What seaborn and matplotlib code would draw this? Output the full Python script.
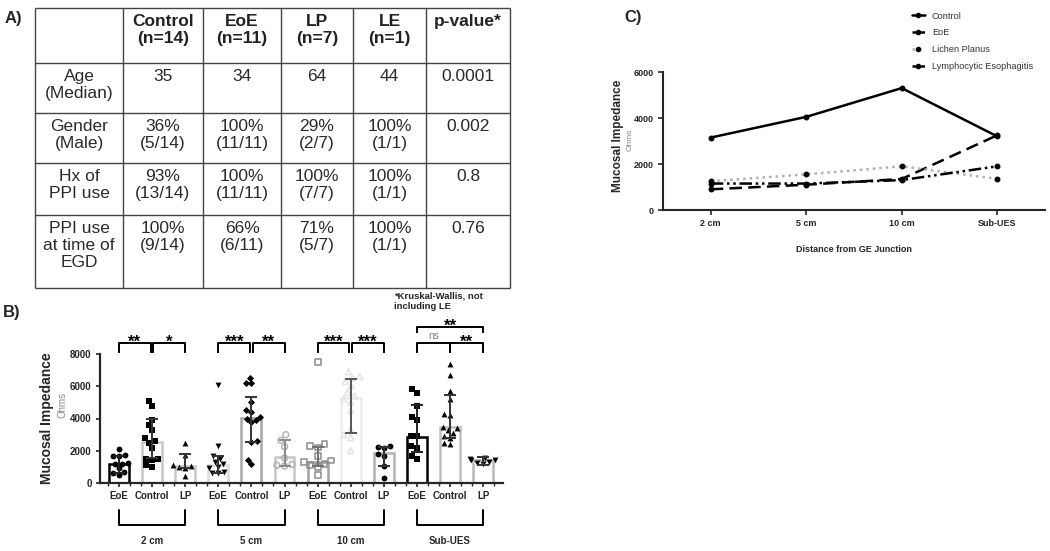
import numpy as np
import pandas as pd
import matplotlib.pyplot as plt
from matplotlib.lines import Line2D
from matplotlib.ticker import MultipleLocator
import seaborn as sns

sns.set_theme(style="ticks")
plt.rcParams['font.family'] = ['Liberation Sans', 'DejaVu Sans']

W, H = 1050, 551

# ---------------- panel A: demographics table ----------------
header = ["", "Control\n(n=14)", "EoE\n(n=11)", "LP\n(n=7)", "LE\n(n=1)", "p-value*"]
row_labels = ["Age\n(Median)", "Gender\n(Male)", "Hx of\nPPI use", "PPI use\nat time of\nEGD"]
control_col = ["35", "36%\n(5/14)", "93%\n(13/14)", "100%\n(9/14)"]
eoe_col = ["34", "100%\n(11/11)", "100%\n(11/11)", "66%\n(6/11)"]
lp_col = ["64", "29%\n(2/7)", "100%\n(7/7)", "71%\n(5/7)"]
le_col = ["44", "100%\n(1/1)", "100%\n(1/1)", "100%\n(1/1)"]
p_values = ["0.0001", "0.002", "0.8", "0.76"]

# ---------------- panel B: impedance per site / group ----------------
sites = ["2 cm", "5 cm", "10 cm", "Sub-UES"]
groups = ["EoE", "Control", "LP"]

eoe_2cm = [2100, 1750, 1700, 1650, 1250, 1200, 1150, 900, 700, 600, 500]
control_2cm = [5100, 4800, 3900, 3600, 3300, 2800, 2600, 2500, 2200, 1500, 1500, 1400, 1100, 1000]
lp_2cm = [2500, 1750, 1100, 1050, 1000, 950, 450]
eoe_5cm = [6100, 2300, 1650, 1500, 1300, 1200, 1000, 900, 700, 600, 600]
control_5cm = [6500, 6200, 6200, 5000, 4500, 4400, 4100, 4000, 3900, 3800, 2600, 2550, 1400, 1150]
lp_5cm = [3000, 2650, 2250, 1550, 1150, 1100, 1050]
eoe_10cm = [7500, 2400, 2300, 2200, 1700, 1400, 1300, 1200, 1100, 1000, 500]
control_10cm = [6900, 6600, 6500, 6300, 6000, 5600, 5400, 5200, 5000, 4500, 3300, 3000, 2800, 2000]
lp_10cm = [2300, 2250, 2200, 1800, 1700, 1050, 300]
eoe_sub = [5800, 5600, 4800, 4100, 3900, 2900, 2900, 2300, 2200, 1700, 1500]
control_sub = [7400, 6700, 5700, 5200, 4300, 4200, 3500, 3400, 3300, 3100, 2900, 2800, 2500, 2400]
lp_sub = [1550, 1500, 1450, 1400, 1300, 1250, 1200]

bar_median = [1180, 2570, 1060, 1100, 4020, 1630, 1320, 5260, 1840, 2880, 3500, 1430]
iqr_low = [600, 1530, 900, 620, 2570, 1050, 1050, 3080, 1050, 1900, 2780, 1120]
iqr_high = [1650, 3950, 1800, 1680, 5320, 2670, 2210, 6440, 2210, 4840, 5470, 1590]

stars_pairs = ["**", "*", "***", "**", "***", "***", "ns", "**"]
stars_overall = "**"

# ---------------- panel C: group means ----------------
line_groups = ["Control", "EoE", "Lichen Planus", "Lymphocytic Esophagitis"]
control_mean = [3150, 4050, 5300, 3200]
eoe_mean = [900, 1100, 1350, 3250]
lp_mean = [1250, 1550, 1900, 1350]
le_mean = [1150, 1150, 1300, 1900]


def px(x, y):
    return x / W, 1 - y / H


fig = plt.figure(figsize=(W / 100, H / 100), dpi=100)
canvas = fig.add_axes([0, 0, 1, 1])
canvas.set_xlim(0, W)
canvas.set_ylim(H, 0)
canvas.axis("off")

# panel labels
for lab, x, y in [("A)", 5, 11), ("B)", 3, 305), ("C)", 624, 10)]:
    canvas.text(x, y, lab, fontsize=12, fontweight="bold", va="top", ha="left")

# table grid
col_edges = [35, 123, 203, 281, 353, 426, 510]
row_edges = [8, 63, 113, 163, 215, 288]
canvas.hlines(row_edges, col_edges[0], col_edges[-1], color="#444444", lw=1)
canvas.vlines(col_edges, row_edges[0], row_edges[-1], color="#444444", lw=1)
centers = [(a + b) / 2 for a, b in zip(col_edges[:-1], col_edges[1:])]
for cx, txt in zip(centers, header):
    canvas.text(cx, row_edges[0] + 6, txt, ha="center", va="top", fontsize=12.5,
                fontweight="bold", linespacing=1.15, color="#222222")
columns = [row_labels, control_col, eoe_col, lp_col, le_col, p_values]
for cx, col in zip(centers, columns):
    for r, txt in enumerate(col):
        canvas.text(cx, row_edges[r + 1] + 6, txt, ha="center", va="top",
                    fontsize=12.5, linespacing=1.15, color="#2a2a2a")

# ---------------- panel B ----------------
slots = [f"{s}|{g}" for s in sites for g in groups]
point_values = [eoe_2cm, control_2cm, lp_2cm, eoe_5cm, control_5cm, lp_5cm,
                eoe_10cm, control_10cm, lp_10cm, eoe_sub, control_sub, lp_sub]
markers = ["o", "s", "^", "v", "D", "o", "s", "^", "o", "s", "^", "v"]
marker_open = [False, False, False, False, False, True, True, True, False, False, False, False]
marker_colors = ["black", "black", "black", "black", "black", "#b4b4b4",
                 "#8c8c8c", "#e4e4e4", "black", "black", "black", "black"]
bar_edges = ["black", "#c8c8c8", "#c8c8c8", "#dcdcdc", "#a8a8a8", "#c8c8c8",
             "#a0a0a0", "#eeeeee", "#b4b4b4", "black", "#c0c0c0", "#b8b8b8"]
err_colors = ["#222222", "#333333", "#333333", "#333333", "#333333", "#8a8a8a",
              "#707070", "#555555", "#333333", "#222222", "#333333", "#333333"]

axB = fig.add_axes([100 / W, (H - 483) / H, 403 / W, 129 / H])
bar_df = pd.DataFrame({"slot": slots, "median": bar_median})
sns.barplot(data=bar_df, x="slot", y="median", order=slots, width=0.6,
            color="white", errorbar=None, ax=axB, zorder=1)
for patch, ec in zip(axB.patches, bar_edges):
    patch.set_facecolor("white")
    patch.set_edgecolor(ec)
    patch.set_linewidth(1.8)

pts = pd.DataFrame([(s, v) for s, vals in zip(slots, point_values) for v in vals],
                   columns=["slot", "value"])
for slot, mk, is_open, mc in zip(slots, markers, marker_open, marker_colors):
    n_before = len(axB.collections)
    sns.swarmplot(data=pts[pts["slot"] == slot], x="slot", y="value", order=slots,
                  marker=mk, size=3.6 if mk == "D" else 4.2, color=mc, ax=axB,
                  zorder=3, warn_thresh=1)
    if is_open:
        for coll in axB.collections[n_before:]:
            coll.set_facecolor("none")
            coll.set_edgecolor(mc)
            coll.set_linewidth(1.1)

for i, (m, lo, hi, ec) in enumerate(zip(bar_median, iqr_low, iqr_high, err_colors)):
    axB.errorbar(i, m, yerr=[[m - lo], [hi - m]], fmt="none", ecolor=ec,
                 elinewidth=1.4, capsize=4.5, capthick=1.4, zorder=4)

axB.set_xlim(-0.574, 11.6)
axB.set_ylim(0, 8000)
axB.set_yticks([0, 2000, 4000, 6000, 8000])
axB.set_xticks(range(12))
axB.set_xticklabels(groups * 4)
axB.xaxis.set_minor_locator(MultipleLocator(1 / 3))
axB.tick_params(axis="x", which="minor", length=2, width=1)
axB.tick_params(axis="both", which="major", length=3, width=1.2, labelsize=7, pad=3)
for lab in axB.get_xticklabels() + axB.get_yticklabels():
    lab.set_fontweight("bold")
axB.set_xlabel("")
axB.set_ylabel("")
sns.despine(ax=axB)
for sp in ["left", "bottom"]:
    axB.spines[sp].set_linewidth(1.6)


# significance brackets
def bracket(ax, x0, x1, ylo, yhi, txt, color="black", fs=12, weight="bold", ty=None):
    ax.plot([x0, x0, x1, x1], [ylo, yhi, yhi, ylo], color="black", lw=1.4,
            clip_on=False, solid_capstyle="butt")
    ax.text((x0 + x1) / 2, ty if ty is not None else yhi + 100, txt, ha="center",
            va="bottom", fontsize=fs, fontweight=weight, color=color)


pair_x = [(0, 0.96), (1.04, 2), (3, 3.96), (4.04, 5), (6, 6.96), (7.04, 8), (9, 10), (10, 11)]
for (x0, x1), s in zip(pair_x, stars_pairs):
    if s == "ns":
        bracket(axB, x0, x1, 8070, 8700, s, color="#808080", fs=7.5, weight="normal", ty=8780)
    else:
        bracket(axB, x0, x1, 8070, 8700, s, ty=8250)
bracket(axB, 9, 11, 9320, 9690, stars_overall, ty=9250)

# group brackets under the axis
tr = axB.get_xaxis_transform()
for k, site in enumerate(sites):
    x0, x1 = 3 * k, 3 * k + 2
    axB.plot([x0, x0, x1, x1], [-0.21, -0.326, -0.326, -0.21], color="black", lw=1.4,
             transform=tr, clip_on=False)
    axB.text(3 * k + 1, -0.45, site, transform=tr, ha="center", va="center",
             fontsize=7, fontweight="bold")

canvas.text(47, 418, "Mucosal Impedance", rotation=90, ha="center", va="center",
            fontsize=10, fontweight="bold")
canvas.text(62, 405, "Ohms", rotation=90, ha="center", va="center", fontsize=7, color="#8a8a8a")
canvas.text(394, 292, "*Kruskal-Wallis, not\nincluding LE", ha="left", va="top",
            fontsize=6.8, fontweight="bold", linespacing=1.15)

# ---------------- panel C ----------------
axC = fig.add_axes([663 / W, (H - 210) / H, 382 / W, 138 / H])
c_df = pd.DataFrame({
    "site": sites * 4,
    "group": [g for g in line_groups for _ in sites],
    "value": control_mean + eoe_mean + lp_mean + le_mean,
})
palette = {"Control": "black", "EoE": "black", "Lichen Planus": "#b0b0b0",
           "Lymphocytic Esophagitis": "black"}
dashes = {"Control": "", "EoE": (5, 2.5), "Lichen Planus": (1, 1.6),
          "Lymphocytic Esophagitis": (5, 1.5, 1, 1.5, 1, 1.5)}
marks = {"Control": "o", "EoE": "o", "Lichen Planus": "o", "Lymphocytic Esophagitis": "o"}
sns.lineplot(data=c_df, x="site", y="value", hue="group", style="group",
             hue_order=line_groups, style_order=line_groups, palette=palette,
             dashes=dashes, markers=marks, markersize=3.5, linewidth=1.8,
             markeredgecolor="black", legend=False, sort=False, ax=axC)
for ln in axC.lines:
    ln.set_markerfacecolor("black")
axC.set_xlim(-0.5, 3.5)
axC.set_ylim(0, 6000)
axC.set_yticks([0, 2000, 4000, 6000])
axC.set_xlabel("Distance from GE Junction", fontsize=6.5, fontweight="bold", labelpad=12)
axC.set_ylabel("")
axC.tick_params(axis="both", length=3.5, width=1.2, labelsize=6.5, pad=3)
for lab in axC.get_xticklabels() + axC.get_yticklabels():
    lab.set_fontweight("bold")
sns.despine(ax=axC)
for sp in ["left", "bottom"]:
    axC.spines[sp].set_linewidth(1.5)

canvas.text(618, 136, "Mucosal Impedance", rotation=90, ha="center", va="center",
            fontsize=8.5, fontweight="bold")
canvas.text(630, 140, "Ohms", rotation=90, ha="center", va="center", fontsize=6, color="#8a8a8a")

handles = []
for g in line_groups:
    handles.append(Line2D([], [], color="black" if g != "Lichen Planus" else "#b0b0b0",
                          lw=1.8, dashes=dashes[g] if dashes[g] else (None, None),
                          marker="o", markersize=3, markerfacecolor="black",
                          markeredgecolor="black"))
fig.legend(handles, line_groups, loc="upper left", bbox_to_anchor=px(908, 8),
           frameon=False, fontsize=6.6, handlelength=1.4, handletextpad=0.8,
           labelspacing=0.85, labelcolor="#333333", borderaxespad=0)

fig.savefig("out.png", dpi=100)
